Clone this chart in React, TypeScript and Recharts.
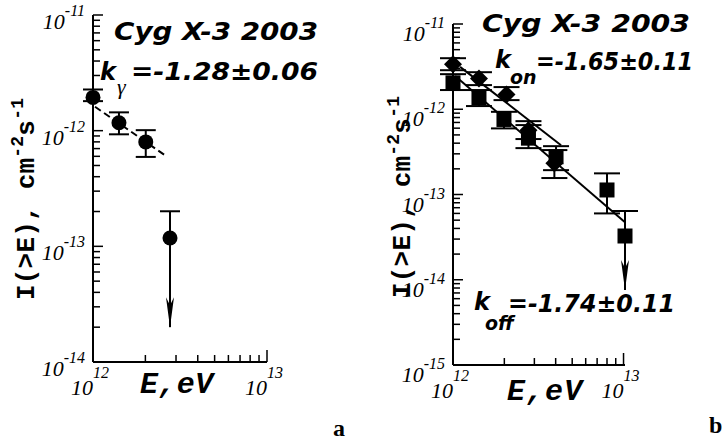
import React from "react";
import { ScatterChart, Scatter, XAxis, YAxis, ErrorBar, ReferenceLine } from "recharts";

// ---- panel a ----
const aEnergy = [1.0e12, 1.41e12, 2.01e12];
const aFlux = [1.94e-12, 1.17e-12, 0.8e-12];
const aFluxLow = [1.8e-12, 0.93e-12, 0.593e-12];
const aFluxHigh = [2.27e-12, 1.44e-12, 1.01e-12];
const aLimitEnergy = [2.77e12];
const aLimitFlux = [1.18e-13];
const aLimitTop = [2.01e-13];
const aLimitArrow = [2.0e-14];
const aFitEnergy = [1.027e12, 2.59e12];
const aFitFlux = [1.61e-12, 0.614e-12];

// ---- panel b ----
const onEnergy = [1.0e12, 1.42e12, 2.06e12, 2.77e12, 3.93e12];
const onFlux = [3.37e-12, 2.3e-12, 1.49e-12, 0.569e-12, 0.232e-12];
const onFluxLow = [2.87e-12, 1.92e-12, 1.28e-12, 0.447e-12, 0.156e-12];
const onFluxHigh = [3.97e-12, 2.72e-12, 1.82e-12, 0.725e-12, 0.332e-12];
const offEnergy = [1.0e12, 1.42e12, 1.99e12, 2.77e12, 4.02e12, 8.0e12];
const offFlux = [2.04e-12, 1.36e-12, 0.759e-12, 0.458e-12, 0.277e-12, 1.13e-13];
const offFluxLow = [1.68e-12, 1.09e-12, 0.596e-12, 0.35e-12, 0.193e-12, 0.6e-13];
const offFluxHigh = [2.58e-12, 1.68e-12, 0.933e-12, 0.652e-12, 0.369e-12, 1.77e-13];
const offLimitEnergy = [1.02e13];
const offLimitFlux = [3.26e-14];
const offLimitTop = [6.4e-14];
const offLimitArrow = [7.6e-15];
const onFitEnergy = [1.1e12, 4.3e12];
const onFitFlux = [3.14e-12, 0.379e-12];
const offFitEnergy = [1.03e12, 1.02e13];
const offFitFlux = [2.45e-12, 4.74e-14];

// ticks
const xTicks = [1e12, 2e12, 3e12, 4e12, 5e12, 6e12, 7e12, 8e12, 9e12, 1e13];
const aDecades = [-14, -13, -12];
const bDecades = [-15, -14, -13, -12];
const minorSteps = [1, 2, 3, 4, 5, 6, 7, 8, 9];

const logTicks = (decades: number[]) => {
  const out: number[] = [];
  decades.forEach((d) => minorSteps.forEach((m) => out.push(m * Math.pow(10, d))));
  out.push(Math.pow(10, decades[decades.length - 1] + 1));
  return out;
};

const points = (xs: number[], ys: number[], lo?: number[], hi?: number[]) =>
  xs.map((x, i) => ({
    x,
    y: ys[i],
    err: lo && hi ? [ys[i] - lo[i], hi[i] - ys[i]] : undefined,
  }));

const isDecade = (v: number) => Math.abs(Math.log10(v) - Math.round(Math.log10(v))) < 1e-6;

const serif = "'Liberation Serif', 'Times New Roman', serif";
const mono = "'Liberation Mono', 'Courier New', monospace";
const comic = "'DejaVu Sans', sans-serif";

const XTick = ({ x, y, payload }: any) => {
  const v = payload.value;
  const major = isDecade(v);
  return (
    <g>
      <line x1={x} x2={x} y1={y} y2={y - (major ? 12 : 7)} stroke="#000" strokeWidth={1.5} />
      {major && (
        <text x={x - 22} y={y + 33} fontFamily={serif} fontStyle="italic" fontSize={22} fill="#000">
          10
          <tspan dy={-17} fontSize={16}>
            {Math.round(Math.log10(v))}
          </tspan>
        </text>
      )}
    </g>
  );
};

const makeYTick = (labelDy: number) => ({ x, y, payload }: any) => {
  const v = payload.value;
  const major = isDecade(v);
  return (
    <g>
      <line x1={x} x2={x + (major ? 10 : 7)} y1={y} y2={y} stroke="#000" strokeWidth={1.5} />
      {major && (
        <text x={x - 8} y={y + labelDy} textAnchor="end" fontFamily={serif} fontStyle="italic" fontSize={22} fill="#000">
          10
          <tspan dy={-13} fontSize={16}>
            {Math.round(Math.log10(v))}
          </tspan>
        </text>
      )}
    </g>
  );
};

const Dot = (p: any) => <circle cx={p.cx} cy={p.cy} r={7.5} fill="#000" />;
const Square = (p: any) => <rect x={p.cx - 7.5} y={p.cy - 7.5} width={15} height={15} fill="#000" />;
const Diamond = (p: any) => (
  <polygon
    points={`${p.cx},${p.cy - 9} ${p.cx + 9},${p.cy} ${p.cx},${p.cy + 9} ${p.cx - 9},${p.cy}`}
    fill="#000"
  />
);
const capShape = (half: number) => (p: any) => (
  <line x1={p.cx - half} x2={p.cx + half} y1={p.cy} y2={p.cy} stroke="#000" strokeWidth={2} />
);
const ArrowTip = (p: any) => (
  <polygon
    points={`${p.cx},${p.cy} ${p.cx - 4},${p.cy - 30} ${p.cx},${p.cy - 22} ${p.cx + 4},${p.cy - 30}`}
    fill="#000"
  />
);

const axisStyle = { stroke: "#000", strokeWidth: 2 };

const PanelA = () => (
  <ScatterChart width={722} height={441} margin={{ top: 15, left: 33, right: 455, bottom: 49 }}>
    <XAxis
      type="number"
      dataKey="x"
      scale="log"
      domain={[1e12, 1e13]}
      ticks={xTicks}
      interval={0}
      height={30}
      tickSize={0}
      tickMargin={0}
      tickLine={false}
      axisLine={axisStyle}
      tick={<XTick />}
    />
    <YAxis
      type="number"
      dataKey="y"
      scale="log"
      domain={[1e-14, 1e-11]}
      ticks={logTicks(aDecades)}
      interval={0}
      width={60}
      tickSize={0}
      tickMargin={0}
      tickLine={false}
      axisLine={axisStyle}
      tick={makeYTick(14)}
    />
    <ReferenceLine
      segment={[
        { x: aFitEnergy[0], y: aFitFlux[0] },
        { x: aFitEnergy[1], y: aFitFlux[1] },
      ]}
      stroke="#000"
      strokeWidth={2}
      strokeDasharray="7 4"
      ifOverflow="visible"
    />
    <ReferenceLine
      segment={[
        { x: aLimitEnergy[0], y: aLimitTop[0] },
        { x: aLimitEnergy[0], y: aLimitArrow[0] },
      ]}
      stroke="#000"
      strokeWidth={2}
      ifOverflow="visible"
    />
    <Scatter data={points(aEnergy, aFlux, aFluxLow, aFluxHigh)} shape={Dot} isAnimationActive={false}>
      <ErrorBar dataKey="err" direction="y" width={10} stroke="#000" strokeWidth={2} />
    </Scatter>
    <Scatter data={points(aLimitEnergy, aLimitTop)} shape={capShape(10)} isAnimationActive={false} />
    <Scatter data={points(aLimitEnergy, aLimitArrow)} shape={ArrowTip} isAnimationActive={false} />
    <Scatter data={points(aLimitEnergy, aLimitFlux)} shape={Dot} isAnimationActive={false} />
  </ScatterChart>
);

const PanelB = () => (
  <ScatterChart width={722} height={441} margin={{ top: 24, left: 393, right: 97, bottom: 46 }}>
    <XAxis
      type="number"
      dataKey="x"
      scale="log"
      domain={[1e12, 1e13]}
      ticks={xTicks}
      interval={0}
      height={30}
      tickSize={0}
      tickMargin={0}
      tickLine={false}
      axisLine={axisStyle}
      tick={<XTick />}
    />
    <YAxis
      type="number"
      dataKey="y"
      scale="log"
      domain={[1e-15, 1e-11]}
      ticks={logTicks(bDecades)}
      interval={0}
      width={60}
      tickSize={0}
      tickMargin={0}
      tickLine={false}
      axisLine={axisStyle}
      tick={makeYTick(17)}
    />
    <ReferenceLine
      segment={[
        { x: onFitEnergy[0], y: onFitFlux[0] },
        { x: onFitEnergy[1], y: onFitFlux[1] },
      ]}
      stroke="#000"
      strokeWidth={2}
      ifOverflow="visible"
    />
    <ReferenceLine
      segment={[
        { x: offFitEnergy[0], y: offFitFlux[0] },
        { x: offFitEnergy[1], y: offFitFlux[1] },
      ]}
      stroke="#000"
      strokeWidth={2}
      ifOverflow="visible"
    />
    <ReferenceLine
      segment={[
        { x: offLimitEnergy[0], y: offLimitTop[0] },
        { x: offLimitEnergy[0], y: offLimitArrow[0] },
      ]}
      stroke="#000"
      strokeWidth={2}
      ifOverflow="visible"
    />
    <Scatter data={points(offEnergy, offFlux, offFluxLow, offFluxHigh)} shape={Square} isAnimationActive={false}>
      <ErrorBar dataKey="err" direction="y" width={13} stroke="#000" strokeWidth={2} />
    </Scatter>
    <Scatter data={points(onEnergy, onFlux, onFluxLow, onFluxHigh)} shape={Diamond} isAnimationActive={false}>
      <ErrorBar dataKey="err" direction="y" width={13} stroke="#000" strokeWidth={2} />
    </Scatter>
    <Scatter data={points(offLimitEnergy, offLimitTop)} shape={capShape(13)} isAnimationActive={false} />
    <Scatter data={points(offLimitEnergy, offLimitArrow)} shape={ArrowTip} isAnimationActive={false} />
    <Scatter data={points(offLimitEnergy, offLimitFlux)} shape={Square} isAnimationActive={false} />
  </ScatterChart>
);

const YLabel = ({ x, y }: { x: number; y: number }) => (
  <text
    transform={`translate(${x},${y}) rotate(-90)`}
    fontFamily={mono}
    fontWeight="bold"
    fontSize={26}
    textLength={202}
    lengthAdjust="spacing"
    fill="#000"
  >
    I(&gt;E), cm
    <tspan dy={-11} fontSize={18}>-2</tspan>
    <tspan dy={11}>s</tspan>
    <tspan dy={-11} fontSize={18}>-1</tspan>
  </text>
);

const bold = { fontFamily: comic, fontWeight: "bold", fontStyle: "italic" } as const;

const Overlay = () => (
  <svg width={722} height={441} style={{ position: "absolute", left: 0, top: 0 }}>
    {/* titles */}
    <text x={114} y={40} {...bold} fontSize={24} textLength={204} lengthAdjust="spacingAndGlyphs">
      Cyg X-3 2003
    </text>
    <text x={482} y={32} {...bold} fontSize={24} textLength={208} lengthAdjust="spacingAndGlyphs">
      Cyg X-3 2003
    </text>

    {/* slopes */}
    <text x={100} y={80} {...bold} fontSize={24}>k</text>
    <text x={117} y={94} fontFamily={serif} fontStyle="italic" fontSize={22}>γ</text>
    <text x={131} y={80} {...bold} fontSize={24} textLength={187} lengthAdjust="spacingAndGlyphs">
      =-1.28±0.06
    </text>

    <text x={495} y={68} {...bold} fontSize={24}>k</text>
    <text x={510} y={84} {...bold} fontSize={19}>on</text>
    <text x={536} y={70} {...bold} fontSize={24} textLength={157} lengthAdjust="spacingAndGlyphs">
      =-1.65±0.11
    </text>

    <text x={474} y={310} {...bold} fontSize={24}>k</text>
    <text x={485} y={330} {...bold} fontSize={19}>off</text>
    <text x={508} y={312} {...bold} fontSize={24} textLength={167} lengthAdjust="spacingAndGlyphs">
      =-1.74±0.11
    </text>

    {/* axis titles */}
    <YLabel x={34} y={300} />
    <YLabel x={410} y={298} />
    <text x={140} y={393} fontFamily={mono} fontWeight="bold" fontStyle="italic" fontSize={30} textLength={73}>
      E,eV
    </text>
    <text x={507} y={400} fontFamily={mono} fontWeight="bold" fontStyle="italic" fontSize={30} textLength={75}>
      E,eV
    </text>

    {/* panel letters */}
    <text x={333} y={436} fontFamily={serif} fontWeight="bold" fontSize={24}>a</text>
    <text x={709} y={433} fontFamily={serif} fontWeight="bold" fontSize={24}>b</text>
  </svg>
);

export default function App() {
  return (
    <div style={{ position: "absolute", left: 0, top: 0, width: 722, height: 441, background: "#fff", overflow: "hidden" }}>
      <div style={{ position: "absolute", left: 0, top: 0 }}>
        <PanelA />
      </div>
      <div style={{ position: "absolute", left: 0, top: 0 }}>
        <PanelB />
      </div>
      <Overlay />
    </div>
  );
}
